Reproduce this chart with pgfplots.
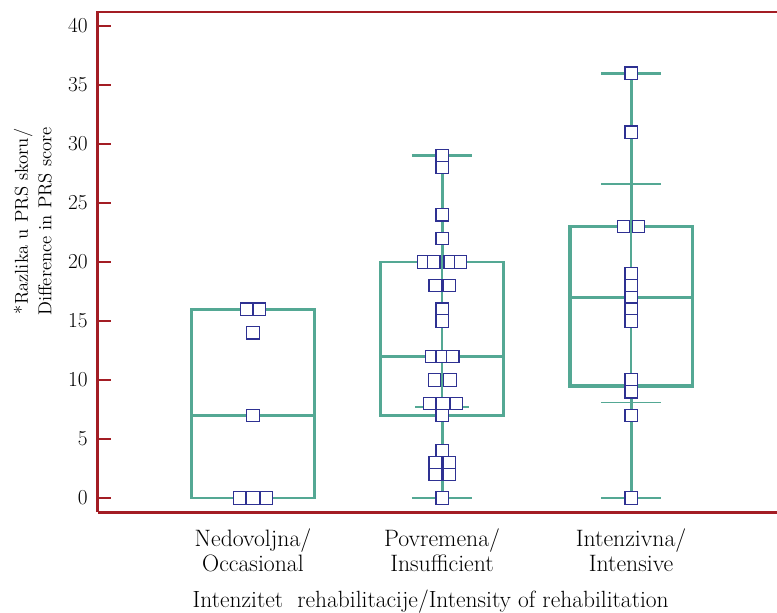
\documentclass[border=0pt]{standalone}
\usepackage{pgfplots}
\pgfplotsset{compat=1.18}
\definecolor{axred}{RGB}{163,29,36}
\definecolor{boxc}{RGB}{84,168,148}
\definecolor{mk}{RGB}{46,49,146}
\begin{document}
\begin{tikzpicture}
\useasboundingbox (-73.5pt,-75pt) rectangle (509.25pt,384pt);
\begin{axis}[
  at={(0,0)}, anchor=south west,
  scale only axis, width=509.25pt, height=375.75pt,
  xmin=-0.820, xmax=2.772, ymin=-1.19, ymax=41.27,
  axis x line*=bottom, axis y line*=left,
  axis line style={axred, line width=2.25pt, -},
  /pgf/number format/assume math mode=true,
  xtick={0,1,2},
  xticklabels={{Nedovoljna/\\Occasional},{Povremena/\\Insufficient},{Intenzivna/\\Intensive}},
  xticklabel style={align=center, font=\fontsize{17.8}{19}\selectfont, yshift=-9pt},
  x tick style={draw=none},
  ytick={0,5,...,40},
  yticklabel style={font=\fontsize{16}{18}\selectfont, xshift=-4.2pt},
  y tick style={axred, line width=1.1pt},
  tick align=inside, major tick length=9.75pt,
  xlabel={Intenzitet\ \ rehabilitacije/Intensity of rehabilitation},
  xlabel style={at={(axis description cs:0.49,0)}, anchor=base, yshift=-71.5pt, font=\fontsize{17.6}{19}\selectfont},
  ylabel={*Razlika u PRS skoru/\\Difference in PRS score},
  ylabel style={at={(axis description cs:-0.096,0.58)}, anchor=center, align=center, font=\fontsize{14}{17.5}\selectfont},
  boxl/.style={boxc, line width=2.2pt, line join=miter, no markers},
  boxt/.style={boxc, line width=2.8pt, line join=miter, no markers},
  thinl/.style={boxc, line width=1.1pt, no markers},
]
\draw[axred, line width=2.25pt] (rel axis cs:0,1) -- (rel axis cs:1,1);
% Group 1: Nedovoljna
\addplot[boxl] coordinates {(-0.325,0) (0.325,0) (0.325,16) (-0.325,16)} -- cycle;
\addplot[boxl] coordinates {(-0.325,7) (0.325,7)};
% Group 2: Povremena
\addplot[boxl] coordinates {(1,0) (1,7)};
\addplot[boxl] coordinates {(1,20) (1,29)};
\addplot[thinl] coordinates {(1,7) (1,20)};
\addplot[boxl] coordinates {(0.841,0) (1.159,0)};
\addplot[boxl] coordinates {(0.841,29) (1.159,29)};
\addplot[thinl] coordinates {(0.858,7.7) (1.142,7.7)};
\addplot[boxl] coordinates {(0.675,7) (1.325,7) (1.325,20) (0.675,20)} -- cycle;
\addplot[boxl] coordinates {(0.675,12) (1.325,12)};
% Group 3: Intenzivna
\addplot[boxl] coordinates {(2,0) (2,9.5)};
\addplot[boxl] coordinates {(2,23) (2,36)};
\addplot[thinl] coordinates {(2,9.5) (2,23)};
\addplot[boxl] coordinates {(1.841,0) (2.159,0)};
\addplot[boxl] coordinates {(1.841,36) (2.159,36)};
\addplot[thinl] coordinates {(1.841,26.6) (2.159,26.6)};
\addplot[thinl] coordinates {(1.841,8.1) (2.159,8.1)};
\addplot[boxt] coordinates {(1.675,9.5) (2.325,9.5) (2.325,23) (1.675,23)} -- cycle;
\addplot[boxt] coordinates {(1.675,17) (2.325,17)};
% Points
\pgfplotsset{pts/.style={only marks, mark=square*, mark size=4.6pt, mark options={fill=white, draw=mk, line width=0.9pt}}}
\addplot[pts] coordinates {(-0.035,16) (0.035,16) (0,14) (0,7) (-0.069,0) (0,0) (0.069,0)};
\addplot[pts] coordinates {(1,29) (1,28) (1,24) (1,22) (0.902,20) (0.957,20) (1.043,20) (1.098,20)
  (0.963,18) (1.037,18) (1,16) (1,15) (0.943,12) (1,12) (1.057,12) (0.959,10) (1.042,10)
  (0.934,8) (1.005,8) (1.075,8) (1,7) (1,4) (0.963,3) (1.037,3) (0.963,2) (1.037,2) (1,0)};
\addplot[pts] coordinates {(2,36) (2,31) (1.961,23) (2.039,23) (2,19) (2,18) (2,17) (2,16) (2,15)
  (2,10) (2,9) (2,7) (2,0)};
\end{axis}
\end{tikzpicture}
\end{document}
